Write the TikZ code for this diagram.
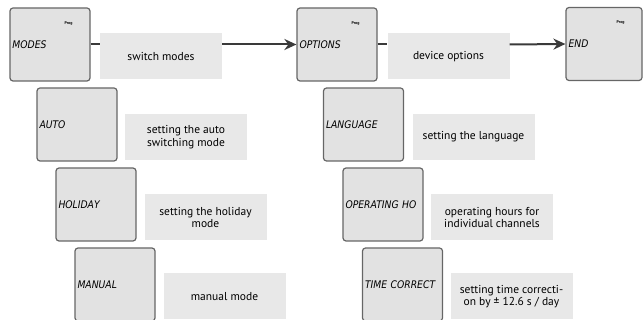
\documentclass[tikz,border=0pt]{standalone}
\usepackage{fontspec}
\setmainfont{PT Sans}
\newfontfamily\lcdfont{DejaVu Sans}[FakeStretch=0.88, HyphenChar=None]
\usetikzlibrary{arrows.meta}
\definecolor{panelfill}{HTML}{E2E2E2}
\definecolor{panelline}{HTML}{666666}
\definecolor{notefill}{HTML}{E8E8E8}
\definecolor{linkgray}{HTML}{3A3A3A}
\tikzstyle{display}=[rectangle,
                     minimum width=80pt,
                     minimum height=73pt,
                     text width=75pt,
                     align=left,
                     inner sep=2.5pt,
                     draw=panelline,
                     fill=panelfill,
                     line width=1.2pt,
                     font=\lcdfont\itshape\fontsize{10.5}{10}\selectfont,
                     rounded corners=3pt ]
\tikzstyle{note}=[rectangle,
                  minimum width=122pt,
                  minimum height=46pt,
                  fill=notefill,
                  align=center,
                  inner sep=1pt,
                  font=\fontsize{11.5}{12.5}\selectfont ]
\tikzstyle{prog}=[font=\bfseries\fontsize{4}{4}\selectfont, inner sep=0pt]
\tikzstyle{link}=[draw=linkgray, line width=2pt]

\begin{document}
\begin{tikzpicture}[x=1pt, y=-1pt]
    \useasboundingbox (0,0) rectangle (643,320);

    % top row
    \node at (50, 44.5) (MODES) [display] {MODES};
    \node at (337, 44.5) (OPTIONS) [display] {OPTIONS};
    \node at (604, 44) (END) [display, minimum width=76pt, text width=71pt] {END};
    \foreach \nm in {MODES, OPTIONS, END} {
        \node at (\nm.north east) [prog, xshift=-22pt, yshift=-16pt] (\nm prog) {Prog};
    }

    \node at (161, 56.5) (MODESnote) [note] {switch modes};
    \node at (448.5, 56.5) (OPTIONSnote) [note] {device options};

    % modes
    \node at (77, 124.5) (AUTO) [display] {AUTO};
    \node at (96, 204.5) (HOLIDAY) [display] {HOLIDAY};
    \node at (115, 284.5) (MANUAL) [display] {MANUAL};
    \node at (186, 137) (AUTOnote) [note] {setting the auto\\switching mode};
    \node at (205.5, 217.5) (HOLIDAYnote) [note] {setting the holiday\\mode};
    \node at (224.5, 296.5) (MANUALnote) [note] {manual mode};

    % options
    \node at (363.5, 124.5) (LANG) [display] {LANGUAGE};
    \node at (383, 204.5) (OPHRS) [display] {OPERATING HO};
    \node at (402.5, 284.5) (TIME) [display] {TIME CORRECT};
    \node at (473.5, 137) (LANGnote) [note] {setting the language};
    \node at (492, 217.5) (OPHRSnote) [note] {operating hours for\\individual channels};
    \node at (511.5, 296.5) (TIMEnote) [note] {setting time correcti-\\on by ± 12.6 s / day};

    \draw[link] (MODES.east) -- (MODES.east -| MODESnote.west);
    \draw[link, -{Stealth[length=12pt, width=11pt]}] (MODESnote.east |- MODES.east) -- (OPTIONS.west);
    \draw[link] (OPTIONS.east) -- (OPTIONS.east -| OPTIONSnote.west);
    \draw[link, -{Stealth[length=12pt, width=11pt]}] (OPTIONSnote.east |- OPTIONS.east) -- (END.west);
\end{tikzpicture}
\end{document}
